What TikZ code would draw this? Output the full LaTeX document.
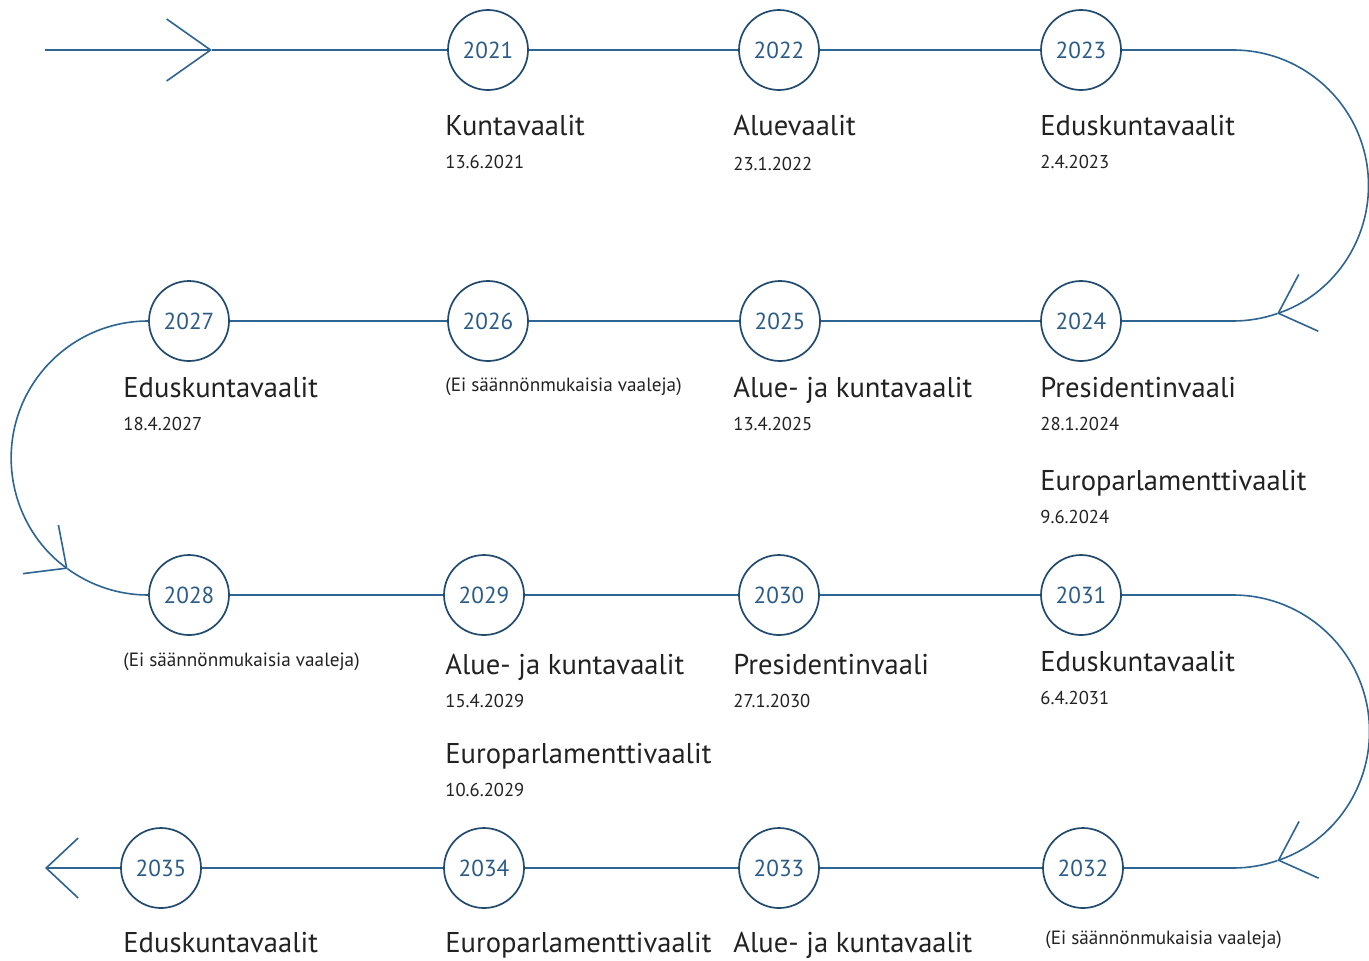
\documentclass[tikz,border=0pt]{standalone}
\usepackage{fontspec}
\setmainfont{PT Sans}
\usepackage{xcolor}
\usepackage{tikz}
\usetikzlibrary{arrows.meta, positioning}
\definecolor{lineblue}{RGB}{46,100,145}
\definecolor{ring}{RGB}{34,74,110}
\definecolor{yeartext}{RGB}{44,92,134}
\definecolor{ink}{RGB}{34,34,34}

\begin{document}
\begin{tikzpicture}[
    x=0.5pt, y=0.5pt,
    year/.style={circle, draw=ring, line width=0.85pt, minimum size=40pt, inner sep=0pt, fill=white, text=yeartext, font=\fontsize{11.6}{13}\selectfont},
    vote/.style={anchor=base west, inner sep=0pt, text=ink, font=\fontsize{14.3}{16}\selectfont},
    day/.style={anchor=base west, inner sep=0pt, text=ink, font=\fontsize{9.3}{11}\selectfont},
    quiet/.style={anchor=base west, inner sep=0pt, text=ink, font=\fontsize{9.6}{11}\selectfont},
    track/.style={draw=lineblue, line width=0.8pt},
    chev/.style={-{Straight Barb[length=16pt, width=30pt]}},
]
\fill[white] (0,0) rectangle (1369,-960);
\useasboundingbox (0,0) rectangle (1369,-960);

% years, row by row
\node[year] (y2021) at (488,-50)  {2021};
\node[year] (y2022) at (779,-50)  {2022};
\node[year] (y2023) at (1081,-50) {2023};

\node[year] (y2027) at (189,-321)  {2027};
\node[year] (y2026) at (488,-321)  {2026};
\node[year] (y2025) at (780,-321)  {2025};
\node[year] (y2024) at (1081,-321) {2024};

\node[year] (y2028) at (189,-595)  {2028};
\node[year] (y2029) at (484,-595)  {2029};
\node[year] (y2030) at (779,-595)  {2030};
\node[year] (y2031) at (1081,-595) {2031};

\node[year] (y2035) at (161,-868)  {2035};
\node[year] (y2034) at (484,-868)  {2034};
\node[year] (y2033) at (779,-868)  {2033};
\node[year] (y2032) at (1083,-868) {2032};

% elections
\node[vote] (t2021) at (445,-135)  {Kuntavaalit};
\node[day]  (d2021) at (445,-168)  {13.6.2021};
\node[vote] (t2022) at (733,-135)  {Aluevaalit};
\node[day]  (d2022) at (733,-170)  {23.1.2022};
\node[vote] (t2023) at (1040,-135) {Eduskuntavaalit};
\node[day]  (d2023) at (1040,-168) {2.4.2023};

\node[vote]  (t2027) at (123,-397)  {Eduskuntavaalit};
\node[day]   (d2027) at (123,-430)  {18.4.2027};
\node[quiet] (t2026) at (445,-391)  {(Ei säännönmukaisia vaaleja)};
\node[vote]  (t2025) at (733,-397)  {Alue- ja kuntavaalit};
\node[day]   (d2025) at (733,-430)  {13.4.2025};
\node[vote]  (t2024) at (1040,-397) {Presidentinvaali};
\node[day]   (d2024) at (1040,-430) {28.1.2024};
\node[vote]  (e2024) at (1040,-490) {Europarlamenttivaalit};
\node[day]   (f2024) at (1040,-523) {9.6.2024};

\node[quiet] (t2028) at (123,-666)  {(Ei säännönmukaisia vaaleja)};
\node[vote]  (t2029) at (445,-674)  {Alue- ja kuntavaalit};
\node[day]   (d2029) at (445,-707)  {15.4.2029};
\node[vote]  (e2029) at (445,-763)  {Europarlamenttivaalit};
\node[day]   (f2029) at (445,-796)  {10.6.2029};
\node[vote]  (t2030) at (733,-674)  {Presidentinvaali};
\node[day]   (d2030) at (733,-707)  {27.1.2030};
\node[vote]  (t2031) at (1040,-671) {Eduskuntavaalit};
\node[day]   (d2031) at (1040,-704) {6.4.2031};

\node[vote]  (t2035) at (123,-952)  {Eduskuntavaalit};
\node[vote]  (t2034) at (445,-952)  {Europarlamenttivaalit};
\node[vote]  (t2033) at (733,-952)  {Alue- ja kuntavaalit};
\node[quiet] (t2032) at (1045,-944) {(Ei säännönmukaisia vaaleja)};

% the track
\coordinate (start) at (45,-50);
\coordinate (tipS)  at (212,-50);
\coordinate (bend1) at (1233,-50);
\coordinate (bend2) at (1233,-595);
\coordinate (stop)  at (45,-868);

\draw[track, -{Straight Barb[length=22pt, width=31pt]}] (start) -- (tipS);
\draw[track] (tipS) -- (y2021) -- (y2022) -- (y2023) -- (bend1);
\draw[track, chev] (bend1) arc[start angle=90, end angle=-71, radius=135.5] coordinate (tipR1);
\draw[track] (tipR1) arc[start angle=-71, end angle=-90, radius=135.5] -- (y2024);
\draw[track] (y2024) -- (y2025) -- (y2026) -- (y2027);
\draw[track, chev] (y2027.west) arc[start angle=90, end angle=234, radius=137] coordinate (tipL);
\draw[track] (tipL) arc[start angle=234, end angle=270, radius=137];
\draw[track] (y2028) -- (y2029) -- (y2030) -- (y2031) -- (bend2);
\draw[track, chev] (bend2) arc[start angle=90, end angle=-71, radius=136.5] coordinate (tipR2);
\draw[track] (tipR2) arc[start angle=-71, end angle=-90, radius=136.5] -- (y2032);
\draw[track] (y2032) -- (y2033) -- (y2034) -- (y2035);
\draw[track, chev] (y2035) -- (stop);
\end{tikzpicture}
\end{document}
